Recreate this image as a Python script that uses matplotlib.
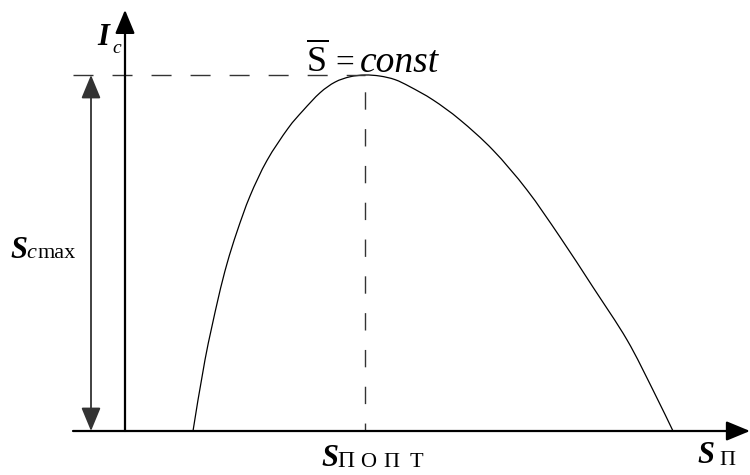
import numpy as np
import matplotlib.pyplot as plt
from matplotlib.path import Path
from matplotlib.patches import PathPatch

plt.rcParams['mathtext.fontset'] = 'custom'
plt.rcParams['mathtext.rm'] = 'Liberation Serif'
plt.rcParams['mathtext.it'] = 'Liberation Serif:italic'
plt.rcParams['lines.scale_dashes'] = False

# кривая I_c(S_п) при S = const (снята по точкам)
s_p = [0.68, 0.80, 0.93, 1.02, 1.12, 1.25, 1.42, 1.63, 1.78, 1.95, 2.10, 2.25,
       2.40, 2.55, 2.70, 2.85, 3.08, 3.35, 3.68, 4.02, 4.35, 4.68, 5.02, 5.28, 5.48]
i_c = [0.00, 0.20, 0.37, 0.47, 0.56, 0.66, 0.76, 0.85, 0.90, 0.95, 0.98, 0.995,
       1.00, 0.997, 0.987, 0.967, 0.93, 0.874, 0.789, 0.677, 0.545, 0.404, 0.256,
       0.115, 0.00]

s_opt = 2.40     # S_п опт
i_max = 1.00     # S_c max


def smooth_path(x, y):
    # Catmull-Rom через точки -> кубические Безье
    p = np.column_stack([x, y])
    p = np.vstack([p[0], p, p[-1]])
    verts = [p[1]]
    codes = [Path.MOVETO]
    for i in range(1, len(p) - 2):
        c1 = p[i] + (p[i + 1] - p[i - 1]) / 6
        c2 = p[i + 1] - (p[i + 2] - p[i]) / 6
        verts += [c1, c2, p[i + 1]]
        codes += [Path.CURVE4] * 3
    return Path(verts, codes)


fig = plt.figure(figsize=(7.5, 4.75), dpi=100)
ax = fig.add_axes([0, 0, 1, 1])
ax.set_xlim(-1.25, 6.25)
ax.set_ylim(-44 / 356, 431 / 356)
ax.axis('off')

head = '-|>,head_length=1.45,head_width=0.6'

# оси
ax.annotate('', xy=(6.25, 0), xytext=(-0.52, 0),
            arrowprops=dict(arrowstyle=head, lw=1.6, color='black',
                            shrinkA=0, shrinkB=0))
ax.annotate('', xy=(0, 1.183), xytext=(0, 0),
            arrowprops=dict(arrowstyle=head, lw=1.6, color='black',
                            shrinkA=0, shrinkB=0))

# кривая
ax.add_patch(PathPatch(smooth_path(s_p, i_c), facecolor='none',
                       edgecolor='black', lw=0.9))

# пунктиры к максимуму
ax.plot([-0.52, s_opt], [i_max, i_max], color='#333333', lw=1.0,
        linestyle=(0, (14.4, 13.7)))
ax.plot([s_opt, s_opt], [i_max, 0], color='#333333', lw=1.0,
        linestyle=(14.4, (12.5, 14.0)))

# размерная стрелка S_c max
ax.annotate('', xy=(-0.34, i_max), xytext=(-0.34, 0),
            arrowprops=dict(arrowstyle='<|-|>,head_length=1.45,head_width=0.6',
                            lw=1.3, color='#333333', shrinkA=0, shrinkB=0))

# подписи
serif = 'Liberation Serif'
big = dict(family=serif, style='italic', weight='bold', ha='left', va='baseline')
sub_it = dict(family=serif, style='italic', ha='left', va='baseline')
sub_rm = dict(family=serif, ha='left', va='baseline')
sub_c = dict(family=serif, ha='center', va='baseline')

ax.text(-0.28, 1.084, 'I', fontsize=22, **big)
ax.text(-0.13, 1.062, 'c', fontsize=14, **sub_it)

ax.text(1.81, 1.008, r'$\overline{\mathrm{S}}$', fontsize=26, ha='left', va='baseline')
ax.text(2.10, 1.008, '=', fontsize=24, **sub_rm)
ax.text(2.35, 1.008, 'const', fontsize=27, **sub_it)

ax.text(-1.15, 0.486, 'S', fontsize=22, **big)
ax.text(-0.99, 0.486, 'c', fontsize=16, **sub_it)
ax.text(-0.87, 0.486, 'max', fontsize=16, **sub_rm)

ax.text(1.96, -0.098, 'S', fontsize=22, **big)
ax.text(2.21, -0.101, 'П', fontsize=17, **sub_c)
for xc, ch in zip([2.43, 2.66, 2.91], 'ОПТ'):
    ax.text(xc, -0.101, ch, fontsize=16, **sub_c)

ax.text(5.72, -0.09, 'S', fontsize=22, **big)
ax.text(6.02, -0.095, 'П', fontsize=16, **sub_c)

fig.savefig('out.png', dpi=100)
